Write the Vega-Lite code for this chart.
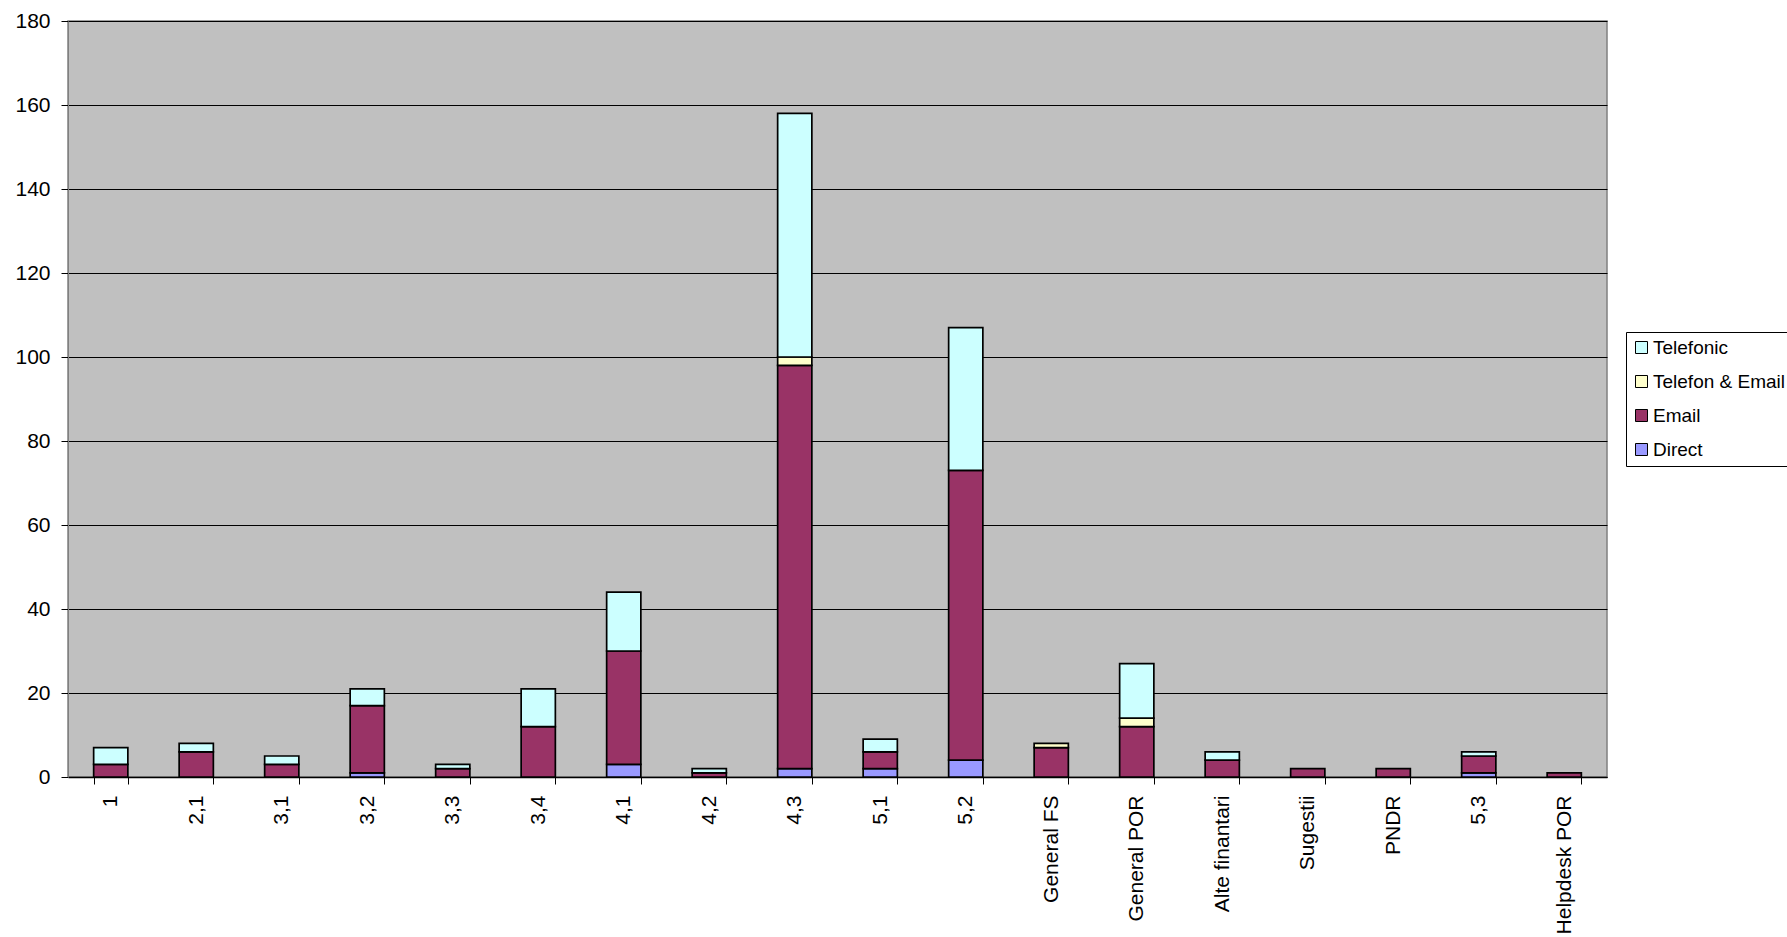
{
  "$schema": "https://vega.github.io/schema/vega-lite/v6.json",
  "autosize": {"type": "none"},
  "padding": {"left": 68, "top": 21, "right": 180, "bottom": 160},
  "width": 1539,
  "height": 756,
  "background": "white",
  "config": {
    "font": "Liberation Sans",
    "view": {"fill": "#C0C0C0", "stroke": "#808080", "strokeWidth": 1.5}
  },
  "data": {
    "values": [
      {"cat": "1", "type": "Email", "value": 3},
      {"cat": "1", "type": "Telefonic", "value": 4},
      {"cat": "2,1", "type": "Email", "value": 6},
      {"cat": "2,1", "type": "Telefonic", "value": 2},
      {"cat": "3,1", "type": "Email", "value": 3},
      {"cat": "3,1", "type": "Telefonic", "value": 2},
      {"cat": "3,2", "type": "Direct", "value": 1},
      {"cat": "3,2", "type": "Email", "value": 16},
      {"cat": "3,2", "type": "Telefonic", "value": 4},
      {"cat": "3,3", "type": "Email", "value": 2},
      {"cat": "3,3", "type": "Telefonic", "value": 1},
      {"cat": "3,4", "type": "Email", "value": 12},
      {"cat": "3,4", "type": "Telefonic", "value": 9},
      {"cat": "4,1", "type": "Direct", "value": 3},
      {"cat": "4,1", "type": "Email", "value": 27},
      {"cat": "4,1", "type": "Telefonic", "value": 14},
      {"cat": "4,2", "type": "Email", "value": 1},
      {"cat": "4,2", "type": "Telefonic", "value": 1},
      {"cat": "4,3", "type": "Direct", "value": 2},
      {"cat": "4,3", "type": "Email", "value": 96},
      {"cat": "4,3", "type": "Telefon & Email", "value": 2},
      {"cat": "4,3", "type": "Telefonic", "value": 58},
      {"cat": "5,1", "type": "Direct", "value": 2},
      {"cat": "5,1", "type": "Email", "value": 4},
      {"cat": "5,1", "type": "Telefonic", "value": 3},
      {"cat": "5,2", "type": "Direct", "value": 4},
      {"cat": "5,2", "type": "Email", "value": 69},
      {"cat": "5,2", "type": "Telefonic", "value": 34},
      {"cat": "General FS", "type": "Email", "value": 7},
      {"cat": "General FS", "type": "Telefon & Email", "value": 1},
      {"cat": "General POR", "type": "Email", "value": 12},
      {"cat": "General POR", "type": "Telefon & Email", "value": 2},
      {"cat": "General POR", "type": "Telefonic", "value": 13},
      {"cat": "Alte finantari", "type": "Email", "value": 4},
      {"cat": "Alte finantari", "type": "Telefonic", "value": 2},
      {"cat": "Sugestii", "type": "Email", "value": 2},
      {"cat": "PNDR", "type": "Email", "value": 2},
      {"cat": "5,3", "type": "Direct", "value": 1},
      {"cat": "5,3", "type": "Email", "value": 4},
      {"cat": "5,3", "type": "Telefonic", "value": 1},
      {"cat": "Helpdesk POR", "type": "Email", "value": 1}
    ]
  },
  "mark": {"type": "bar", "stroke": "black", "strokeWidth": 1.7},
  "encoding": {
    "x": {
      "field": "cat",
      "type": "nominal",
      "sort": ["1", "2,1", "3,1", "3,2", "3,3", "3,4", "4,1", "4,2", "4,3", "5,1", "5,2", "General FS", "General POR", "Alte finantari", "Sugestii", "PNDR", "5,3", "Helpdesk POR"],
      "scale": {"paddingInner": 0.6, "paddingOuter": 0.3},
      "axis": {
        "title": null,
        "labelAngle": 270,
        "labelAlign": "right",
        "labelBaseline": "middle",
        "labelFontSize": 21,
        "labelColor": "black",
        "labelPadding": 11,
        "tickBand": "extent",
        "tickSize": 7,
        "tickColor": "black",
        "domainColor": "black",
        "domainWidth": 1.5,
        "labelLimit": 0,
        "grid": false
      }
    },
    "y": {
      "field": "value",
      "type": "quantitative",
      "aggregate": "sum",
      "stack": "zero",
      "scale": {"domain": [0, 180], "nice": false},
      "axis": {
        "title": null,
        "values": [0, 20, 40, 60, 80, 100, 120, 140, 160, 180],
        "labelFontSize": 21,
        "labelColor": "black",
        "labelPadding": 11,
        "tickSize": 7,
        "tickColor": "black",
        "domainColor": "#808080",
        "grid": true,
        "gridColor": "black",
        "gridWidth": 1,
        "gridOpacity": 1
      }
    },
    "color": {
      "field": "type",
      "type": "nominal",
      "scale": {
        "domain": ["Telefonic", "Telefon & Email", "Email", "Direct"],
        "range": ["#CCFFFF", "#FFFFCC", "#993366", "#9999FF"]
      },
      "legend": {
        "title": null,
        "orient": "none",
        "legendX": 1558,
        "legendY": 311,
        "symbolType": "square",
        "symbolSize": 144,
        "symbolStrokeColor": "black",
        "symbolStrokeWidth": 1,
        "labelFontSize": 19,
        "labelColor": "black",
        "labelOffset": 2,
        "labelLimit": 0,
        "rowPadding": 14,
        "padding": 6,
        "strokeColor": "black",
        "fillColor": "white",
        "cornerRadius": 0
      }
    },
    "order": {"field": "type", "sort": "ascending"}
  }
}
